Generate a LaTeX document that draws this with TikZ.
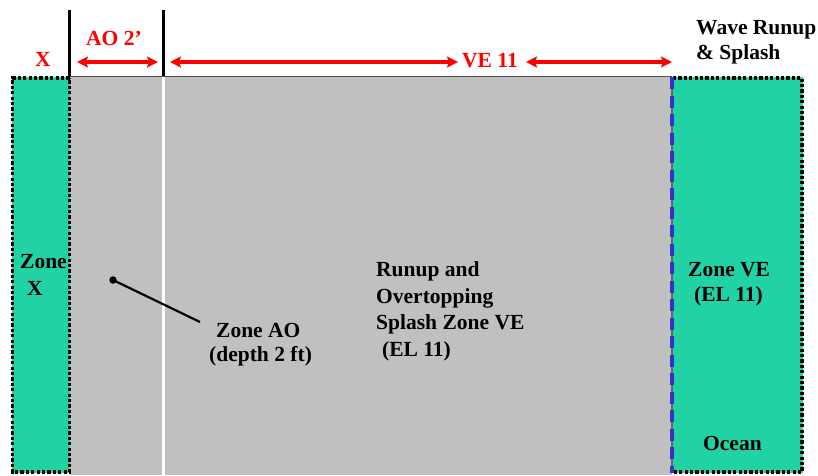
\documentclass[tikz,border=0pt]{standalone}
\usepackage{fontspec}
\setmainfont{Liberation Serif}
\usetikzlibrary{arrows.meta}
\definecolor{zonegreen}{RGB}{33,210,165}
\definecolor{zonegray}{RGB}{192,192,192}
\definecolor{edgeblue}{RGB}{51,51,204}
\tikzset{
  lbl/.style={anchor=base west,inner sep=0pt,font=\bfseries\fontsize{21.5}{26}\selectfont},
  redlbl/.style={lbl,text=red},
  dimarrow/.style={draw=red,line width=3.6pt,{Stealth[length=11pt,width=11pt,inset=2pt]}-{Stealth[length=11pt,width=11pt,inset=2pt]}},
  dotborder/.style={draw=black,line width=3.3pt,dash pattern=on 3.2pt off 2.2pt},
  tick/.style={draw=black,line width=2.6pt}
}
\begin{document}
\begin{tikzpicture}[x=1pt,y=-1pt]
\useasboundingbox (0,0) rectangle (818,475);
% gray area
\fill[zonegray] (70,76) rectangle (672,475);
\draw[black!70,line width=1.2pt] (70,76.5) -- (672,76.5);
% white divider
\draw[white,line width=3.2pt] (163.5,77) -- (163.5,475);
% green zones
\fill[zonegreen] (12,77) rectangle (69.5,473);
\fill[zonegreen] (672,77) rectangle (803,473);
\draw[dotborder] (69.5,78) -- (12.5,78) -- (12.5,472) -- (69.5,472) -- cycle;
\draw[dotborder] (673,78) -- (802,78) -- (802,472) -- (673,472);
\draw[black!60,line width=1.2pt] (672,77) -- (672,473);
\draw[edgeblue,line width=3.5pt,dash pattern=on 12pt off 6.5pt] (672,77) -- (672,473);
% ticks
\coordinate (t1a) at (69.5,10); \coordinate (t1b) at (69.5,76);
\coordinate (t2a) at (163.5,10); \coordinate (t2b) at (163.5,76);
\draw[tick] (t1a) -- (t1b);
\draw[tick] (t2a) -- (t2b);
% dimension arrows
\coordinate (aoL) at (77,62); \coordinate (aoR) at (158,62);
\draw[dimarrow] (aoL) -- (aoR);
\coordinate (veL) at (170,62); \coordinate (veM1) at (458,62);
\coordinate (veM2) at (526,62); \coordinate (veR) at (672,62);
\draw[dimarrow] (veL) -- (veM1);
\draw[dimarrow] (veM2) -- (veR);
% red labels
\node[redlbl] (lx) at (35,66) {X};
\node[redlbl] (lao) at (86,45) {AO 2’};
\node[redlbl] (lve) at (462,67) {VE 11};
% black labels
\node[lbl] (wave1) at (696,34) {Wave Runup};
\node[lbl] (wave2) at (696,59) {\& Splash};
\node[lbl] (zx1) at (20,268) {Zone};
\node[lbl] (zx2) at (27,295) {X};
\node[lbl] (ru1) at (376,276) {Runup and};
\node[lbl] (ru2) at (376,303) {Overtopping};
\node[lbl] (ru3) at (376,329) {Splash Zone VE};
\node[lbl] (ru4) at (382,356) {(EL 11)};
\node[lbl] (zve1) at (688,276) {Zone VE};
\node[lbl] (zve2) at (694,301) {(EL 11)};
\node[lbl] (ocean) at (703,450) {Ocean};
\node[lbl] (ao1) at (216,337) {Zone AO};
\node[lbl] (ao2) at (209,361) {(depth 2 ft)};
% leader
\node[circle,fill=black,inner sep=0pt,minimum size=7.5pt] (dot) at (113,280) {};
\coordinate (leadend) at (200,322);
\draw[black,line width=2.2pt] (dot.center) -- (leadend);
\end{tikzpicture}
\end{document}
